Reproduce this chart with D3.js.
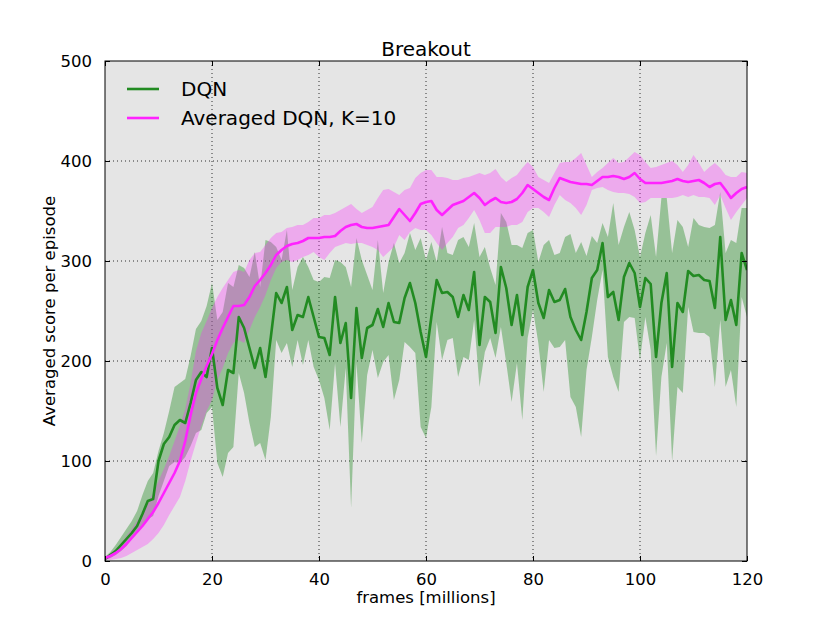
<!DOCTYPE html>
<html>
<head>
<meta charset="utf-8">
<script src="https://cdn.jsdelivr.net/npm/d3@7"></script>
<style>
  body { margin: 0; background: #fff; }
  text { font-family: "DejaVu Sans", sans-serif; fill: #000; }
</style>
</head>
<body>
<svg width="830" height="623"></svg>
<script>
// frames in millions, one sample per million
const frames = d3.range(0, 121);

const dqnMean = [2, 6, 10, 16, 22, 28, 35, 47, 60, 62, 100, 117, 124, 136, 141, 138, 158, 181, 189, 184, 213,
  173, 156, 191, 188, 244, 233, 213, 193, 213, 184, 224, 268, 258, 274, 231, 246, 244, 264, 244, 224,
  223, 206, 264, 218, 238, 163, 253, 203, 233, 236, 252, 234, 258, 239, 238, 263, 278, 258, 229, 204,
  244, 281, 268, 269, 264, 244, 266, 251, 289, 216, 264, 259, 228, 294, 273, 236, 266, 226, 274, 291,
  258, 243, 271, 259, 261, 272, 244, 231, 221, 249, 283, 291, 318, 264, 269, 241, 284, 298, 288, 254,
  283, 277, 204, 258, 288, 194, 258, 249, 290, 285, 286, 281, 280, 253, 324, 241, 261, 236, 308, 291];
const dqnHigh = [4, 9, 16, 24, 32, 40, 50, 66, 80, 88, 110, 128, 150, 174, 178, 182, 205, 232, 240, 255, 278,
  241, 249, 278, 274, 296, 293, 284, 309, 274, 321, 319, 314, 301, 331, 271, 294, 304, 294, 281, 279,
  284, 283, 301, 299, 294, 274, 323, 301, 286, 271, 321, 268, 299, 318, 298, 308, 328, 311, 323, 301,
  319, 299, 334, 308, 306, 321, 324, 314, 338, 304, 314, 293, 276, 348, 339, 316, 316, 313, 328, 331,
  299, 316, 321, 306, 308, 324, 327, 308, 319, 305, 325, 318, 338, 324, 358, 316, 334, 349, 331, 304,
  328, 346, 304, 363, 363, 308, 341, 334, 314, 343, 336, 334, 333, 336, 369, 308, 321, 318, 353, 353];
const dqnLow = [1, 3, 6, 10, 15, 22, 28, 36, 42, 45, 65, 80, 95, 99, 98, 104, 115, 128, 131, 148, 154,
  98, 84, 108, 114, 188, 168, 138, 114, 118, 101, 144, 221, 208, 218, 194, 221, 196, 221, 194, 181,
  163, 131, 198, 134, 193, 53, 198, 118, 186, 211, 183, 199, 206, 161, 181, 219, 214, 208, 134, 123,
  154, 239, 201, 221, 223, 184, 204, 201, 241, 174, 209, 223, 203, 234, 198, 159, 198, 141, 223, 251,
  218, 169, 221, 213, 214, 221, 164, 154, 124, 191, 224, 261, 291, 204, 184, 169, 239, 244, 243, 201,
  244, 211, 105, 184, 218, 100, 174, 168, 254, 229, 228, 228, 224, 174, 241, 174, 191, 154, 264, 244];

const avgMean = [3, 5, 8, 12, 17, 23, 29, 35, 42, 49, 58, 68, 78, 88, 100, 120, 146, 168, 182, 195, 207,
  221, 233, 244, 255, 255, 256, 264, 275, 281, 288, 296, 306, 311, 315, 317, 318, 320, 323, 323, 323,
  324, 324, 325, 330, 334, 336, 337, 334, 333, 333, 334, 335, 336, 344, 352, 346, 340, 348, 357, 359,
  360, 351, 346, 351, 356, 358, 360, 364, 368, 363, 356, 360, 363, 359, 358, 359, 362, 368, 376, 372,
  368, 364, 361, 373, 383, 381, 379, 378, 377, 377, 376, 380, 384, 384, 385, 384, 382, 384, 388, 382,
  378, 378, 378, 378, 379, 380, 382, 380, 379, 380, 381, 378, 374, 377, 378, 371, 363, 368, 372, 374];
const avgHigh = [4, 7, 12, 18, 25, 32, 40, 48, 58, 68, 80, 92, 105, 120, 135, 152, 178, 210, 228, 240, 253,
  264, 273, 281, 289, 291, 289, 301, 308, 309, 316, 323, 328, 329, 333, 334, 336, 336, 339, 343, 343,
  346, 346, 348, 351, 354, 357, 352, 348, 351, 354, 363, 371, 372, 369, 366, 371, 373, 383, 388, 391,
  391, 384, 384, 383, 381, 381, 383, 384, 386, 388, 386, 388, 392, 384, 379, 383, 386, 393, 399, 394,
  384, 381, 378, 388, 398, 399, 399, 403, 408, 396, 384, 389, 393, 398, 403, 398, 399, 404, 409, 406,
  399, 393, 394, 396, 398, 400, 396, 389, 396, 406, 398, 389, 394, 398, 393, 386, 384, 384, 389, 388];
const avgLow = [1, 1, 2, 3, 5, 8, 11, 14, 17, 22, 28, 36, 46, 55, 64, 80, 100, 118, 135, 150, 161,
  181, 193, 208, 218, 221, 218, 231, 244, 254, 266, 281, 293, 299, 301, 299, 301, 304, 306, 309, 304,
  301, 308, 314, 316, 318, 317, 318, 318, 316, 314, 311, 304, 309, 314, 326, 321, 329, 333, 331, 331,
  326, 318, 311, 318, 324, 333, 336, 343, 351, 341, 328, 328, 334, 334, 334, 336, 336, 339, 349, 353,
  353, 349, 344, 356, 366, 361, 358, 353, 346, 356, 371, 373, 374, 371, 369, 368, 368, 367, 364, 358,
  359, 363, 363, 363, 363, 363, 364, 366, 364, 366, 364, 364, 363, 356, 366, 353, 341, 349, 356, 363];

const xTicks = [0, 20, 40, 60, 80, 100, 120];
const yTicks = [0, 100, 200, 300, 400, 500];
const seriesNames = ["DQN", "Averaged DQN, K=10"];

const green = "#228b22", magenta = "#ff22ff";

const svg = d3.select("svg");
const margin = { left: 105, top: 61, right: 83, bottom: 62 };
const width = 830 - margin.left - margin.right,
  height = 623 - margin.top - margin.bottom;

const x = d3.scaleLinear().domain([0, 120]).range([0, width]);
const y = d3.scaleLinear().domain([0, 500]).range([height, 0]);

const g = svg.append("g").attr("transform", `translate(${margin.left},${margin.top})`);

g.append("rect").attr("width", width).attr("height", height).attr("fill", "#e5e5e5");

g.append("clipPath").attr("id", "clip")
  .append("rect").attr("width", width).attr("height", height);

// grid
g.append("g").selectAll("line").data(xTicks.slice(1, -1)).enter().append("line")
  .attr("x1", d => x(d)).attr("x2", d => x(d)).attr("y1", 0).attr("y2", height)
  .attr("stroke", "#000").attr("stroke-width", 0.8).attr("stroke-dasharray", "1,3");
g.append("g").selectAll("line").data(yTicks.slice(1, -1)).enter().append("line")
  .attr("y1", d => y(d)).attr("y2", d => y(d)).attr("x1", 0).attr("x2", width)
  .attr("stroke", "#000").attr("stroke-width", 0.8).attr("stroke-dasharray", "1,3");

const plot = g.append("g").attr("clip-path", "url(#clip)");

function band(lo, hi) {
  return d3.area().x((d, i) => x(frames[i])).y0((d, i) => y(lo[i])).y1((d, i) => y(hi[i]))(frames);
}
function line(vals) {
  return d3.line().x((d, i) => x(frames[i])).y((d, i) => y(vals[i]))(frames);
}

plot.append("path").attr("d", band(dqnLow, dqnHigh)).attr("fill", green).attr("fill-opacity", 0.4);
plot.append("path").attr("d", band(avgLow, avgHigh)).attr("fill", magenta).attr("fill-opacity", 0.3);
plot.append("path").attr("d", line(dqnMean)).attr("fill", "none").attr("stroke", green)
  .attr("stroke-width", 2.6).attr("stroke-linejoin", "round");
plot.append("path").attr("d", line(avgMean)).attr("fill", "none").attr("stroke", magenta)
  .attr("stroke-width", 2.6).attr("stroke-linejoin", "round");

// frame
g.append("rect").attr("width", width).attr("height", height)
  .attr("fill", "none").attr("stroke", "#000").attr("stroke-width", 1);

// axes with inward ticks
const fs = "16.5px";
const xAx = g.append("g").attr("transform", `translate(0,${height})`)
  .call(d3.axisBottom(x).tickValues(xTicks).tickSize(-5).tickPadding(12));
const xTop = g.append("g").call(d3.axisTop(x).tickValues(xTicks).tickSize(-5).tickFormat(""));
const yAx = g.append("g").call(d3.axisLeft(y).tickValues(yTicks).tickSize(-5).tickPadding(13));
const yRight = g.append("g").attr("transform", `translate(${width},0)`)
  .call(d3.axisRight(y).tickValues(yTicks).tickSize(-5).tickFormat(""));
[xAx, xTop, yAx, yRight].forEach(a => {
  a.select(".domain").remove();
  a.selectAll("line").attr("stroke", "#000");
  a.selectAll("text").style("font-size", fs).attr("font-family", "DejaVu Sans");
});

// titles
g.append("text").attr("x", width / 2).attr("y", -5).attr("text-anchor", "middle")
  .style("font-size", "20px").text("Breakout");
g.append("text").attr("x", width / 2).attr("y", height + 42).attr("text-anchor", "middle")
  .style("font-size", fs).text("frames [millions]");
g.append("text").attr("transform", `translate(-50,${height / 2}) rotate(-90)`)
  .attr("text-anchor", "middle").style("font-size", fs).text("Averaged score per episode");

// legend
const leg = g.append("g").attr("transform", "translate(22,28)");
[green, magenta].forEach((c, i) => {
  const row = leg.append("g").attr("transform", `translate(0,${i * 29})`);
  row.append("line").attr("x1", 0).attr("x2", 32).attr("stroke", c).attr("stroke-width", 2.6);
  row.append("text").attr("x", 54).attr("dy", "0.36em").style("font-size", "20px").text(seriesNames[i]);
});
</script>
</body>
</html>
